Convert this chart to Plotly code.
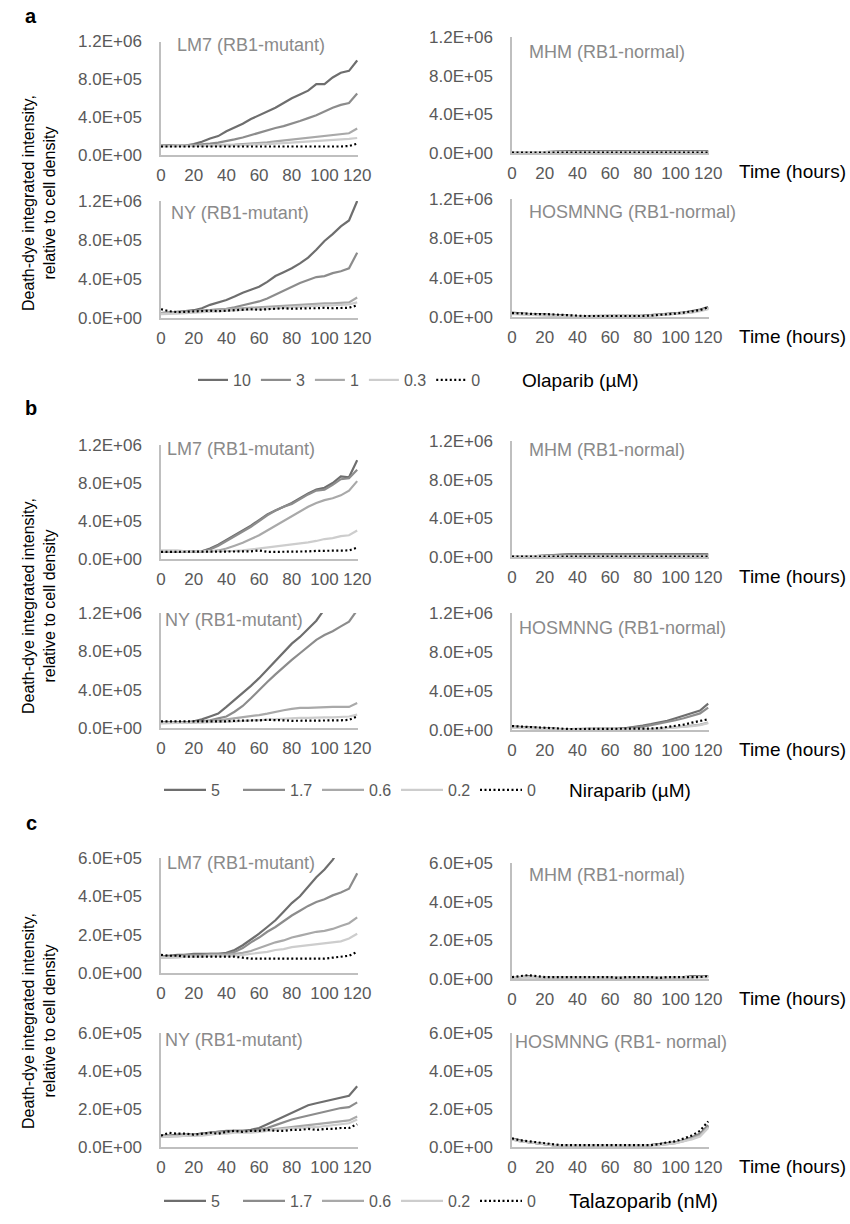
import plotly.graph_objects as go

# ---------------- data (time in hours; values in units of 1e5) ----------------
HOURS = list(range(0, 121, 5))
SCALE = 1e5

# Panel a : Olaparib (uM)
A_DOSES = ["10", "3", "1", "0.3", "0"]
A_LM7_10 = [1.0, 1.05, 0.95, 1.0, 1.15, 1.4, 1.75, 2.0, 2.5, 2.9, 3.3, 3.8, 4.2, 4.6, 5.0, 5.5, 6.0, 6.4, 6.8, 7.5, 7.5, 8.2, 8.7, 8.9, 10.0]
A_LM7_3 = [1.0, 1.0, 0.95, 1.0, 1.05, 1.1, 1.2, 1.3, 1.45, 1.65, 1.85, 2.1, 2.4, 2.6, 2.85, 3.05, 3.3, 3.6, 3.9, 4.2, 4.6, 5.0, 5.3, 5.5, 6.5]
A_LM7_1 = [1.0, 1.0, 0.95, 0.95, 1.0, 1.0, 1.05, 1.05, 1.1, 1.1, 1.15, 1.2, 1.3, 1.35, 1.45, 1.55, 1.65, 1.75, 1.85, 1.95, 2.05, 2.1, 2.2, 2.3, 2.8]
A_LM7_03 = [0.9, 0.9, 0.9, 0.9, 0.95, 0.95, 1.0, 1.0, 1.0, 1.05, 1.05, 1.1, 1.1, 1.15, 1.2, 1.25, 1.3, 1.35, 1.4, 1.45, 1.5, 1.55, 1.6, 1.7, 1.8]
A_LM7_0 = [0.9, 0.9, 0.9, 0.9, 0.9, 0.9, 0.9, 0.9, 0.9, 0.85, 0.85, 0.85, 0.85, 0.85, 0.9, 0.85, 0.85, 0.85, 0.85, 0.9, 0.9, 0.9, 0.9, 0.95, 1.2]

A_MHM_10 = [0.05, 0.05, 0.05, 0.08, 0.1, 0.15, 0.2, 0.2, 0.2, 0.2, 0.2, 0.2, 0.2, 0.2, 0.2, 0.2, 0.25, 0.2, 0.2, 0.2, 0.2, 0.2, 0.2, 0.2, 0.2]
A_MHM_3 = [0.05, 0.05, 0.05, 0.05, 0.08, 0.1, 0.15, 0.15, 0.15, 0.15, 0.15, 0.15, 0.15, 0.15, 0.15, 0.15, 0.15, 0.15, 0.15, 0.15, 0.15, 0.15, 0.15, 0.15, 0.15]
A_MHM_1 = [0.1, 0.1, 0.1, 0.1, 0.1, 0.1, 0.1, 0.1, 0.1, 0.1, 0.1, 0.1, 0.1, 0.1, 0.1, 0.1, 0.1, 0.1, 0.1, 0.1, 0.1, 0.1, 0.1, 0.1, 0.1]
A_MHM_03 = [0.1, 0.1, 0.1, 0.1, 0.1, 0.1, 0.1, 0.1, 0.1, 0.1, 0.1, 0.1, 0.1, 0.1, 0.1, 0.1, 0.1, 0.1, 0.1, 0.1, 0.1, 0.1, 0.1, 0.1, 0.1]
A_MHM_0 = [0.05, 0.05, 0.05, 0.05, 0.05, 0.05, 0.05, 0.05, 0.05, 0.05, 0.05, 0.05, 0.05, 0.05, 0.05, 0.05, 0.05, 0.05, 0.05, 0.05, 0.05, 0.05, 0.05, 0.05, 0.05]

A_NY_10 = [0.5, 0.55, 0.6, 0.7, 0.8, 1.0, 1.35, 1.6, 1.85, 2.2, 2.6, 2.9, 3.2, 3.7, 4.3, 4.7, 5.1, 5.6, 6.2, 7.0, 7.9, 8.6, 9.4, 10.0, 12.0]
A_NY_3 = [0.5, 0.5, 0.55, 0.6, 0.7, 0.75, 0.8, 0.85, 0.95, 1.1, 1.3, 1.5, 1.7, 2.0, 2.4, 2.8, 3.2, 3.6, 3.9, 4.2, 4.3, 4.6, 4.8, 5.1, 6.7]
A_NY_1 = [0.5, 0.55, 0.6, 0.7, 0.75, 0.8, 0.85, 0.9, 0.95, 1.0, 1.05, 1.1, 1.15, 1.2, 1.25, 1.3, 1.35, 1.4, 1.45, 1.5, 1.5, 1.5, 1.55, 1.6, 2.1]
A_NY_03 = [0.4, 0.4, 0.45, 0.5, 0.55, 0.6, 0.65, 0.7, 0.75, 0.8, 0.85, 0.9, 0.95, 1.0, 1.05, 1.1, 1.1, 1.15, 1.2, 1.25, 1.3, 1.3, 1.35, 1.4, 1.6]
A_NY_0 = [0.9, 0.7, 0.6, 0.65, 0.7, 0.75, 0.75, 0.7, 0.75, 0.8, 0.85, 0.9, 0.85, 0.9, 0.95, 1.0, 0.95, 1.0, 1.0, 1.0, 1.05, 1.0, 1.05, 1.05, 1.3]

A_HOS_10 = [0.45, 0.35, 0.3, 0.3, 0.25, 0.2, 0.15, 0.15, 0.1, 0.1, 0.1, 0.1, 0.1, 0.1, 0.1, 0.15, 0.15, 0.2, 0.25, 0.3, 0.35, 0.45, 0.6, 0.75, 1.0]
A_HOS_3 = [0.4, 0.35, 0.3, 0.25, 0.2, 0.2, 0.15, 0.1, 0.1, 0.1, 0.1, 0.1, 0.1, 0.1, 0.1, 0.1, 0.15, 0.2, 0.25, 0.3, 0.35, 0.45, 0.55, 0.7, 0.9]
A_HOS_1 = [0.35, 0.3, 0.3, 0.25, 0.2, 0.15, 0.1, 0.1, 0.1, 0.05, 0.05, 0.05, 0.05, 0.05, 0.1, 0.1, 0.1, 0.15, 0.2, 0.25, 0.3, 0.4, 0.5, 0.65, 0.85]
A_HOS_03 = [0.3, 0.3, 0.25, 0.2, 0.15, 0.15, 0.1, 0.1, 0.05, 0.05, 0.05, 0.05, 0.05, 0.05, 0.05, 0.1, 0.1, 0.15, 0.2, 0.25, 0.3, 0.35, 0.45, 0.6, 0.8]
A_HOS_0 = [0.4, 0.35, 0.3, 0.3, 0.3, 0.25, 0.2, 0.15, 0.1, 0.1, 0.1, 0.1, 0.05, 0.05, 0.05, 0.1, 0.1, 0.15, 0.2, 0.25, 0.35, 0.45, 0.55, 0.7, 1.0]

# Panel b : Niraparib (uM)
B_DOSES = ["5", "1.7", "0.6", "0.2", "0"]
B_LM7_5 = [0.8, 0.8, 0.8, 0.8, 0.8, 0.8, 1.1, 1.5, 2.0, 2.5, 3.0, 3.5, 4.1, 4.7, 5.1, 5.5, 5.9, 6.4, 6.9, 7.3, 7.5, 8.0, 8.7, 8.6, 10.4]
B_LM7_17 = [0.8, 0.8, 0.8, 0.8, 0.8, 0.8, 1.0, 1.4, 1.9, 2.4, 2.9, 3.4, 4.0, 4.6, 5.1, 5.5, 5.8, 6.3, 6.8, 7.2, 7.3, 7.8, 8.4, 8.5, 9.4]
B_LM7_06 = [0.8, 0.8, 0.8, 0.8, 0.8, 0.8, 0.8, 0.9, 1.1, 1.4, 1.7, 2.1, 2.5, 3.0, 3.5, 4.0, 4.5, 5.0, 5.5, 5.9, 6.2, 6.4, 6.7, 7.2, 8.2]
B_LM7_02 = [0.9, 0.9, 0.9, 0.8, 0.8, 0.8, 0.8, 0.8, 0.8, 0.85, 0.9, 1.0, 1.1, 1.2, 1.3, 1.4, 1.5, 1.6, 1.75, 1.9, 2.1, 2.2, 2.4, 2.5, 3.0]
B_LM7_0 = [0.75, 0.75, 0.75, 0.75, 0.75, 0.75, 0.75, 0.75, 0.75, 0.75, 0.75, 0.8, 0.9, 0.75, 0.75, 0.75, 0.75, 0.8, 0.8, 0.85, 0.85, 0.85, 0.85, 0.9, 1.2]

B_MHM_5 = [0.05, 0.05, 0.05, 0.1, 0.15, 0.2, 0.3, 0.3, 0.3, 0.3, 0.3, 0.3, 0.3, 0.3, 0.3, 0.3, 0.3, 0.3, 0.3, 0.3, 0.3, 0.3, 0.3, 0.3, 0.3]
B_MHM_17 = [0.05, 0.05, 0.05, 0.1, 0.15, 0.2, 0.25, 0.25, 0.25, 0.25, 0.25, 0.25, 0.25, 0.25, 0.25, 0.25, 0.25, 0.25, 0.25, 0.25, 0.25, 0.25, 0.25, 0.25, 0.25]
B_MHM_06 = [0.1, 0.1, 0.1, 0.1, 0.1, 0.15, 0.15, 0.15, 0.15, 0.15, 0.15, 0.15, 0.15, 0.15, 0.15, 0.15, 0.15, 0.15, 0.15, 0.15, 0.15, 0.15, 0.15, 0.15, 0.15]
B_MHM_02 = [0.1, 0.1, 0.1, 0.1, 0.1, 0.1, 0.1, 0.1, 0.1, 0.1, 0.1, 0.1, 0.1, 0.1, 0.1, 0.1, 0.1, 0.1, 0.1, 0.1, 0.1, 0.1, 0.1, 0.1, 0.1]
B_MHM_0 = [0.05, 0.05, 0.05, 0.05, 0.05, 0.05, 0.05, 0.05, 0.05, 0.05, 0.05, 0.05, 0.05, 0.05, 0.05, 0.05, 0.05, 0.05, 0.05, 0.05, 0.05, 0.05, 0.05, 0.05, 0.05]

B_NY_5 = [0.6, 0.6, 0.6, 0.6, 0.7, 0.9, 1.2, 1.5, 2.2, 2.9, 3.6, 4.4, 5.2, 6.1, 7.0, 7.9, 8.8, 9.5, 10.4, 11.2, 12.4, 13.3, 14.0, 14.8, 15.5]
B_NY_17 = [0.6, 0.6, 0.6, 0.6, 0.6, 0.7, 0.8, 1.0, 1.2, 1.7, 2.3, 3.1, 4.0, 4.8, 5.6, 6.4, 7.1, 7.8, 8.5, 9.2, 9.7, 10.1, 10.6, 11.1, 12.3]
B_NY_06 = [0.5, 0.5, 0.5, 0.55, 0.6, 0.65, 0.7, 0.8, 0.9, 1.0, 1.1, 1.2, 1.35, 1.5, 1.7, 1.85, 2.0, 2.1, 2.1, 2.15, 2.2, 2.2, 2.2, 2.2, 2.6]
B_NY_02 = [0.5, 0.5, 0.5, 0.5, 0.5, 0.55, 0.6, 0.6, 0.65, 0.7, 0.75, 0.8, 0.85, 0.9, 0.95, 1.0, 1.0, 1.05, 1.05, 1.1, 1.1, 1.1, 1.15, 1.2, 1.4]
B_NY_0 = [0.7, 0.7, 0.7, 0.65, 0.65, 0.7, 0.7, 0.7, 0.7, 0.75, 0.75, 0.8, 0.8, 0.85, 0.85, 0.8, 0.75, 0.75, 0.75, 0.75, 0.8, 0.8, 0.8, 0.85, 1.2]

B_HOS_5 = [0.35, 0.3, 0.25, 0.2, 0.15, 0.15, 0.1, 0.1, 0.1, 0.1, 0.1, 0.1, 0.1, 0.15, 0.2, 0.3, 0.45, 0.6, 0.75, 0.95, 1.2, 1.45, 1.7, 2.0, 2.7]
B_HOS_17 = [0.35, 0.3, 0.25, 0.2, 0.15, 0.15, 0.1, 0.1, 0.1, 0.1, 0.1, 0.1, 0.1, 0.15, 0.2, 0.25, 0.35, 0.5, 0.65, 0.8, 1.0, 1.2, 1.45, 1.7, 2.3]
B_HOS_06 = [0.3, 0.25, 0.2, 0.15, 0.1, 0.1, 0.05, 0.05, 0.05, 0.05, 0.05, 0.05, 0.05, 0.05, 0.05, 0.05, 0.1, 0.1, 0.15, 0.2, 0.25, 0.35, 0.45, 0.55, 0.75]
B_HOS_02 = [0.25, 0.2, 0.2, 0.15, 0.1, 0.1, 0.05, 0.05, 0.05, 0.05, 0.05, 0.05, 0.05, 0.05, 0.05, 0.05, 0.1, 0.1, 0.15, 0.2, 0.25, 0.3, 0.4, 0.5, 0.7]
B_HOS_0 = [0.4, 0.35, 0.3, 0.25, 0.2, 0.15, 0.15, 0.1, 0.1, 0.1, 0.1, 0.1, 0.1, 0.1, 0.1, 0.1, 0.1, 0.15, 0.2, 0.3, 0.4, 0.55, 0.75, 0.9, 1.1]

# Panel c : Talazoparib (nM)
C_DOSES = ["5", "1.7", "0.6", "0.2", "0"]
C_LM7_5 = [0.85, 0.9, 0.95, 0.95, 1.0, 1.0, 1.0, 1.0, 1.05, 1.2, 1.45, 1.75, 2.05, 2.4, 2.75, 3.2, 3.65, 4.0, 4.5, 5.0, 5.4, 5.9, 6.6, 7.2, 7.8]
C_LM7_17 = [0.85, 0.85, 0.9, 0.95, 0.95, 0.95, 1.0, 1.0, 1.0, 1.1, 1.3, 1.6, 1.85, 2.15, 2.4, 2.7, 3.0, 3.25, 3.5, 3.7, 3.85, 4.05, 4.2, 4.4, 5.2]
C_LM7_06 = [0.8, 0.8, 0.85, 0.9, 0.9, 0.9, 0.95, 0.95, 0.95, 1.0, 1.05, 1.15, 1.3, 1.45, 1.6, 1.7, 1.85, 1.95, 2.05, 2.15, 2.2, 2.3, 2.45, 2.6, 2.9]
C_LM7_02 = [0.8, 0.8, 0.8, 0.85, 0.85, 0.85, 0.9, 0.9, 0.9, 0.9, 0.95, 1.0, 1.05, 1.1, 1.2, 1.25, 1.35, 1.4, 1.45, 1.5, 1.55, 1.6, 1.65, 1.8, 2.05]
C_LM7_0 = [0.95, 0.9, 0.9, 0.85, 0.85, 0.85, 0.85, 0.85, 0.85, 0.85, 0.8, 0.75, 0.75, 0.75, 0.75, 0.75, 0.75, 0.75, 0.75, 0.75, 0.75, 0.8, 0.85, 0.9, 1.1]

C_MHM_5 = [0.1, 0.1, 0.15, 0.1, 0.1, 0.1, 0.1, 0.1, 0.1, 0.1, 0.1, 0.1, 0.1, 0.1, 0.1, 0.1, 0.1, 0.1, 0.1, 0.1, 0.1, 0.1, 0.15, 0.15, 0.15]
C_MHM_17 = [0.1, 0.1, 0.1, 0.1, 0.1, 0.1, 0.1, 0.1, 0.1, 0.1, 0.1, 0.1, 0.1, 0.1, 0.1, 0.1, 0.1, 0.1, 0.1, 0.1, 0.1, 0.1, 0.1, 0.15, 0.15]
C_MHM_06 = [0.1, 0.1, 0.1, 0.1, 0.1, 0.1, 0.1, 0.1, 0.1, 0.1, 0.1, 0.1, 0.1, 0.1, 0.1, 0.1, 0.1, 0.1, 0.1, 0.1, 0.1, 0.1, 0.1, 0.1, 0.1]
C_MHM_02 = [0.08, 0.08, 0.08, 0.08, 0.08, 0.08, 0.08, 0.08, 0.08, 0.08, 0.08, 0.08, 0.08, 0.08, 0.08, 0.08, 0.08, 0.08, 0.08, 0.08, 0.08, 0.08, 0.08, 0.08, 0.1]
C_MHM_0 = [0.1, 0.15, 0.2, 0.15, 0.1, 0.1, 0.1, 0.1, 0.1, 0.1, 0.1, 0.1, 0.1, 0.05, 0.1, 0.1, 0.1, 0.1, 0.05, 0.1, 0.1, 0.1, 0.1, 0.1, 0.15]

C_NY_5 = [0.6, 0.6, 0.65, 0.65, 0.65, 0.7, 0.75, 0.8, 0.85, 0.85, 0.85, 0.9, 1.0, 1.2, 1.4, 1.6, 1.8, 2.0, 2.2, 2.3, 2.4, 2.5, 2.6, 2.7, 3.2]
C_NY_17 = [0.6, 0.6, 0.6, 0.65, 0.65, 0.7, 0.75, 0.8, 0.8, 0.85, 0.85, 0.85, 0.9, 1.0, 1.15, 1.3, 1.45, 1.55, 1.65, 1.75, 1.85, 1.95, 2.05, 2.1, 2.35]
C_NY_06 = [0.55, 0.55, 0.6, 0.6, 0.6, 0.65, 0.7, 0.75, 0.75, 0.8, 0.8, 0.8, 0.85, 0.9, 0.95, 1.0, 1.05, 1.1, 1.15, 1.2, 1.25, 1.3, 1.35, 1.4, 1.6]
C_NY_02 = [0.55, 0.55, 0.55, 0.6, 0.6, 0.6, 0.65, 0.7, 0.7, 0.75, 0.75, 0.75, 0.8, 0.85, 0.9, 0.95, 1.0, 1.0, 1.05, 1.05, 1.1, 1.15, 1.2, 1.25, 1.45]
C_NY_0 = [0.6, 0.75, 0.7, 0.7, 0.65, 0.7, 0.75, 0.7, 0.8, 0.85, 0.8, 0.85, 0.85, 0.9, 0.85, 0.85, 0.9, 0.9, 0.95, 0.9, 0.95, 0.95, 1.0, 1.0, 1.2]

C_HOS_5 = [0.45, 0.35, 0.25, 0.2, 0.15, 0.1, 0.1, 0.1, 0.1, 0.1, 0.1, 0.1, 0.1, 0.1, 0.1, 0.1, 0.1, 0.1, 0.15, 0.2, 0.25, 0.35, 0.5, 0.7, 1.15]
C_HOS_17 = [0.45, 0.35, 0.25, 0.2, 0.15, 0.1, 0.1, 0.1, 0.1, 0.1, 0.1, 0.1, 0.1, 0.1, 0.1, 0.1, 0.1, 0.1, 0.15, 0.2, 0.25, 0.35, 0.5, 0.65, 1.1]
C_HOS_06 = [0.4, 0.3, 0.25, 0.2, 0.15, 0.1, 0.1, 0.1, 0.1, 0.1, 0.1, 0.1, 0.1, 0.1, 0.1, 0.1, 0.1, 0.1, 0.1, 0.15, 0.2, 0.3, 0.45, 0.6, 1.05]
C_HOS_02 = [0.4, 0.3, 0.25, 0.2, 0.15, 0.1, 0.1, 0.1, 0.1, 0.1, 0.1, 0.1, 0.1, 0.1, 0.1, 0.1, 0.1, 0.1, 0.1, 0.15, 0.2, 0.3, 0.4, 0.55, 1.0]
C_HOS_0 = [0.45, 0.35, 0.3, 0.25, 0.2, 0.15, 0.1, 0.1, 0.1, 0.1, 0.1, 0.1, 0.1, 0.1, 0.1, 0.1, 0.1, 0.1, 0.15, 0.25, 0.3, 0.45, 0.6, 0.85, 1.35]

# tick labels
X_TICKS = [0, 20, 40, 60, 80, 100, 120]
Y_TICKS_AB = [0, 4e5, 8e5, 1.2e6]
Y_TEXT_AB = ["0.0E+00", "4.0E+05", "8.0E+05", "1.2E+06"]
Y_TICKS_C = [0, 2e5, 4e5, 6e5]
Y_TEXT_C = ["0.0E+00", "2.0E+05", "4.0E+05", "6.0E+05"]

CELL_TITLES_A = ["LM7 (RB1-mutant)", "MHM (RB1-normal)", "NY (RB1-mutant)", "HOSMNNG (RB1-normal)"]
CELL_TITLES_B = ["LM7 (RB1-mutant)", "MHM (RB1-normal)", "NY (RB1-mutant)", "HOSMNNG (RB1-normal)"]
CELL_TITLES_C = ["LM7 (RB1-mutant)", "MHM (RB1-normal)", "NY (RB1-mutant)", "HOSMNNG (RB1- normal)"]
DRUGS = ["Olaparib (µM)", "Niraparib (µM)", "Talazoparib (nM)"]
PANEL_LETTERS = ["a", "b", "c"]
Y_TITLE = "Death-dye integrated intensity,<br>relative to cell density"

# ---------------- assembly ----------------
panels = [
    dict(doses=A_DOSES, ticks=Y_TICKS_AB, text=Y_TEXT_AB, ymax=1.2e6, titles=CELL_TITLES_A,
         cells=[[A_LM7_10, A_LM7_3, A_LM7_1, A_LM7_03, A_LM7_0],
                [A_MHM_10, A_MHM_3, A_MHM_1, A_MHM_03, A_MHM_0],
                [A_NY_10, A_NY_3, A_NY_1, A_NY_03, A_NY_0],
                [A_HOS_10, A_HOS_3, A_HOS_1, A_HOS_03, A_HOS_0]]),
    dict(doses=B_DOSES, ticks=Y_TICKS_AB, text=Y_TEXT_AB, ymax=1.2e6, titles=CELL_TITLES_B,
         cells=[[B_LM7_5, B_LM7_17, B_LM7_06, B_LM7_02, B_LM7_0],
                [B_MHM_5, B_MHM_17, B_MHM_06, B_MHM_02, B_MHM_0],
                [B_NY_5, B_NY_17, B_NY_06, B_NY_02, B_NY_0],
                [B_HOS_5, B_HOS_17, B_HOS_06, B_HOS_02, B_HOS_0]]),
    dict(doses=C_DOSES, ticks=Y_TICKS_C, text=Y_TEXT_C, ymax=6e5, titles=CELL_TITLES_C,
         cells=[[C_LM7_5, C_LM7_17, C_LM7_06, C_LM7_02, C_LM7_0],
                [C_MHM_5, C_MHM_17, C_MHM_06, C_MHM_02, C_MHM_0],
                [C_NY_5, C_NY_17, C_NY_06, C_NY_02, C_NY_0],
                [C_HOS_5, C_HOS_17, C_HOS_06, C_HOS_02, C_HOS_0]]),
]

W, H = 850, 1224
FONT = "Liberation Sans, Arial, sans-serif"
TICK_COL = "#595959"
TITLE_COL = "#8a8a8a"
AXIS_COL = "#bfbfbf"
LINE_COLORS = ["#6e6e6e", "#8c8c8c", "#a9a9a9", "#cdcdcd", "#000000"]

# plot-area boxes in px: (x0, x1, ytop, ybottom) per panel, per cell
BOXES = [
    [(161, 358, 41.5, 155), (512, 709, 37, 153), (161, 358, 201, 318), (512, 709, 199, 317)],
    [(161, 358, 445, 559), (512, 709, 441, 557), (161, 358, 613, 728), (512, 709, 613, 730)],
    [(161, 358, 858, 973), (512, 709, 863, 979), (161, 358, 1033, 1147), (512, 709, 1033, 1147)],
]
TITLE_POS = [
    [(175, 45), (527, 52), (169, 213), (527, 212)],
    [(165, 449), (527, 450), (163, 620), (517, 628)],
    [(165, 863), (527, 875), (163, 1040), (513, 1042)],
]
LEGEND_Y = [380, 790, 1201]
LEGEND_X = [193, 159, 159]
LEGEND_ITEMW = [30, 42, 42]
LEGEND_ENTRYW = [0, 22, 22]
DRUG_X = [520, 567, 567]
DRUG_SIZE = [19, 19, 20]
YTITLE_Y = [203, 606, 1021]
LETTER_Y = [16, 408, 823]

fig = go.Figure()
layout = dict(width=W, height=H,
              margin=dict(l=0, r=0, t=0, b=0, pad=0, autoexpand=False),
              paper_bgcolor="white", plot_bgcolor="white",
              font=dict(family=FONT, color=TICK_COL), annotations=[])


def fx(px):
    return px / W


def fy(py):
    return 1 - py / H


idx = 0
for p, panel in enumerate(panels):
    legname = "legend" if p == 0 else f"legend{p + 1}"
    for c, series in enumerate(panel["cells"]):
        idx += 1
        x0, x1, yt, yb = BOXES[p][c]
        for k, vals in enumerate(series):
            fig.add_trace(go.Scatter(
                x=HOURS, y=[v * SCALE for v in vals], mode="lines",
                name=panel["doses"][k], legend=legname, showlegend=(c == 0),
                line=dict(color=LINE_COLORS[k], width=2.2,
                          dash="2px,2.5px" if k == 4 else "solid"),
                xaxis=f"x{idx}", yaxis=f"y{idx}", hoverinfo="skip"))
        layout[f"xaxis{idx}"] = dict(
            domain=[fx(x0), fx(x1)], anchor=f"y{idx}", range=[0, 120.5],
            tickvals=X_TICKS, ticks="", showgrid=False, zeroline=False,
            showline=True, linecolor=AXIS_COL, linewidth=1.5,
            tickfont=dict(size=17, color=TICK_COL, family=FONT), ticklabelstandoff=4)
        layout[f"yaxis{idx}"] = dict(
            domain=[fy(yb), fy(yt)], anchor=f"x{idx}", range=[0, panel["ymax"]],
            tickvals=panel["ticks"], ticktext=panel["text"], ticks="",
            showgrid=False, zeroline=False, showline=True, linecolor=AXIS_COL,
            linewidth=1.5, tickfont=dict(size=17, color=TICK_COL, family=FONT),
            ticklabelstandoff=14)
        tx, ty = TITLE_POS[p][c]
        layout["annotations"].append(dict(
            text=panel["titles"][c], x=fx(tx), y=fy(ty), xref="paper", yref="paper",
            xanchor="left", yanchor="middle", showarrow=False,
            font=dict(size=18, color=TITLE_COL, family=FONT)))
        if c in (1, 3):
            layout["annotations"].append(dict(
                text="Time (hours)", x=fx(737), y=fy(yb + 19), xref="paper", yref="paper",
                xanchor="left", yanchor="middle", showarrow=False,
                font=dict(size=19, color="black", family=FONT)))
    leg = dict(
        orientation="h", x=fx(LEGEND_X[p]), y=fy(LEGEND_Y[p]), xanchor="left",
        yanchor="middle", bgcolor="rgba(0,0,0,0)", itemwidth=LEGEND_ITEMW[p],
        font=dict(size=16, color=TICK_COL, family=FONT), traceorder="normal")
    if LEGEND_ENTRYW[p]:
        leg["entrywidth"] = LEGEND_ENTRYW[p]
        leg["entrywidthmode"] = "pixels"
    layout[legname] = leg
    layout["annotations"].append(dict(
        text=DRUGS[p], x=fx(DRUG_X[p]), y=fy(LEGEND_Y[p]), xref="paper", yref="paper",
        xanchor="left", yanchor="middle", showarrow=False,
        font=dict(size=DRUG_SIZE[p], color="black", family=FONT)))
    layout["annotations"].append(dict(
        text=Y_TITLE, x=fx(39), y=fy(YTITLE_Y[p]), xref="paper", yref="paper",
        xanchor="center", yanchor="middle", showarrow=False, textangle=-90,
        font=dict(size=16, color="black", family=FONT)))
    layout["annotations"].append(dict(
        text=f"<b>{PANEL_LETTERS[p]}</b>", x=fx(31), y=fy(LETTER_Y[p]), xref="paper",
        yref="paper", xanchor="center", yanchor="middle", showarrow=False,
        font=dict(size=20, color="black", family=FONT)))

fig.update_layout(**layout)
fig.write_html("out.html", config={"displayModeBar": False},
               post_script="document.body.style.margin='0px';document.body.style.overflow='hidden';")
